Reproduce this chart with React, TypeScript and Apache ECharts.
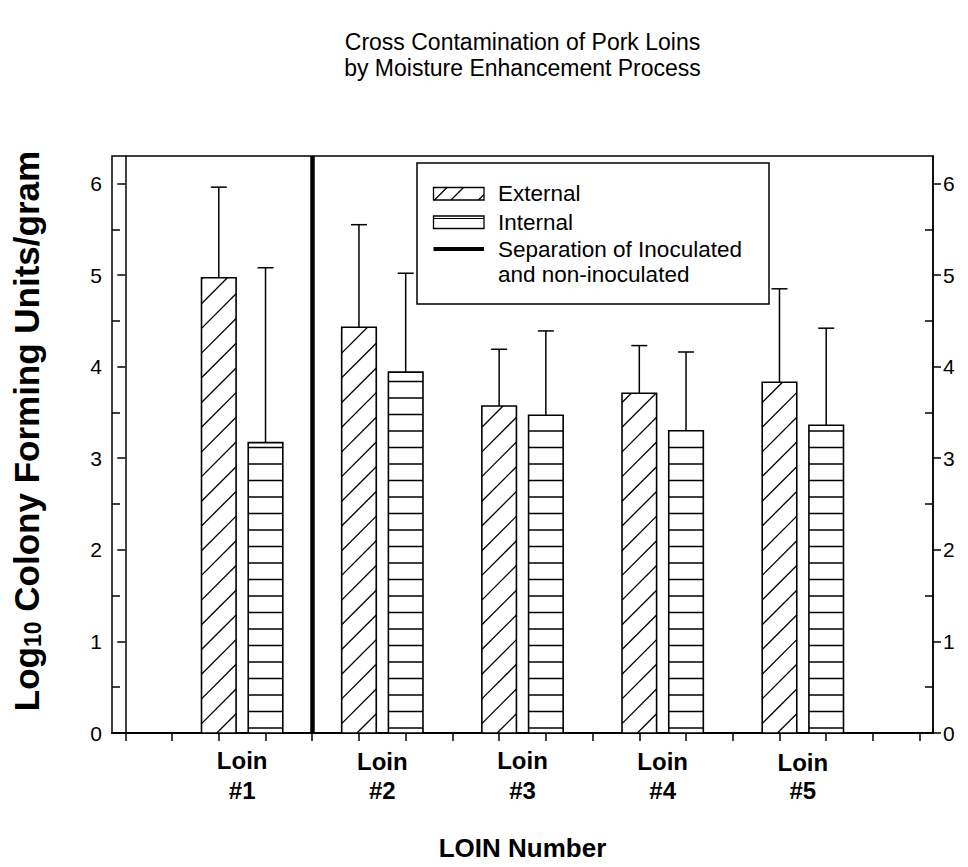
import React, { useEffect, useRef } from "react";
import * as echarts from "echarts";

// ---------- data ----------
const titleText = "Cross Contamination of Pork Loins\nby Moisture Enhancement Process";
const xTitle = "LOIN Number";
const loinNames = ["#1", "#2", "#3", "#4", "#5"];
const labelX = [2.5, 5.5, 8.5, 11.5, 14.5];
const labelDrop = [0, 2, 0, 2, 5];
const externalX = [2, 5, 8, 11, 14];
const internalX = [3, 6, 9, 12, 15];
const externalMeans = [4.97, 4.43, 3.57, 3.71, 3.83];
const externalSD = [0.99, 1.12, 0.62, 0.52, 1.02];
const internalMeans = [3.17, 3.94, 3.47, 3.3, 3.36];
const internalSD = [1.91, 1.08, 0.92, 0.86, 1.06];
const separatorX = 4;
const xTicks = [0, 1, 2, 3, 4, 5, 6, 7, 8, 9, 10, 11, 12, 13, 14, 15, 16, 17];
const yTicks = [0, 1, 2, 3, 4, 5, 6];
const yMinorTicks = [0.5, 1.5, 2.5, 3.5, 4.5, 5.5];
const legendLabels = ["External", "Internal", "Separation of Inoculated", "and non-inoculated"];

const FONT = "'Liberation Sans', Arial, Helvetica, sans-serif";
const BAR_W = 0.74;

function renderBar(params: any, api: any) {
  const x = api.value(0) as number;
  const mean = api.value(1) as number;
  const sd = api.value(2) as number;
  const kind = api.value(3) as number;
  const pTop = api.coord([x, mean]);
  const pBot = api.coord([x, 0]);
  const pErr = api.coord([x, mean + sd]);
  const w = api.size([BAR_W, 0])[0];
  const left = pTop[0] - w / 2;
  const top = pTop[1];
  const bottom = pBot[1];
  const h = bottom - top;
  const children: any[] = [];
  children.push({ type: "rect", shape: { x: left, y: top, width: w, height: h }, style: { fill: "#fff" } });
  const hatch = { stroke: "#000", lineWidth: 1.3 };
  if (kind === 0) {
    const s = 24.7;
    const c0 = 9.4;
    for (let c = c0 - s * Math.ceil((w + c0) / s); c < h; c += s) {
      const u1 = Math.max(0, -c);
      const u2 = Math.min(w, h - c);
      if (u2 - u1 < 0.5) continue;
      children.push({
        type: "line",
        shape: { x1: left + u1, y1: bottom - (u1 + c), x2: left + u2, y2: bottom - (u2 + c) },
        style: hatch,
      });
    }
  } else {
    for (let v = 5; v < h - 0.5; v += 16.5) {
      children.push({
        type: "line",
        shape: { x1: left, y1: bottom - v, x2: left + w, y2: bottom - v },
        style: hatch,
      });
    }
  }
  children.push({
    type: "rect",
    shape: { x: left, y: top, width: w, height: h },
    style: { fill: "none", stroke: "#000", lineWidth: 1.6 },
  });
  const cx = pTop[0];
  children.push({ type: "line", shape: { x1: cx, y1: top, x2: cx, y2: pErr[1] }, style: { stroke: "#000", lineWidth: 1.5 } });
  children.push({ type: "line", shape: { x1: cx - 8, y1: pErr[1], x2: cx + 8, y2: pErr[1] }, style: { stroke: "#000", lineWidth: 1.5 } });
  return { type: "group", children };
}

export default function App() {
  const ref = useRef<HTMLDivElement>(null);
  useEffect(() => {
    if (!ref.current) return;
    const chart = echarts.init(ref.current, undefined, { renderer: "svg" });

    const barData: any[] = [];
    externalMeans.forEach((m, i) => barData.push([externalX[i], m, externalSD[i], 0]));
    internalMeans.forEach((m, i) => barData.push([internalX[i], m, internalSD[i], 1]));

    const richX: any = { q: { fontSize: 24, fontWeight: "bold", fontFamily: FONT, color: "#000", lineHeight: 30 } };
    labelDrop.forEach((d, i) => {
      richX["p" + i] = { fontSize: 24, fontWeight: "bold", fontFamily: FONT, color: "#000", lineHeight: 30, padding: [d, 0, 0, 0] };
    });

    const yMajor = (pos: string) => ({
      type: "value",
      position: pos,
      min: 0,
      max: 6.3,
      axisLine: { show: true, lineStyle: { color: "#000", width: 1.5 } },
      axisTick: { show: true, inside: false, length: 8, customValues: yTicks, lineStyle: { color: "#000", width: 1.5 } },
      axisLabel: { show: true, customValues: yTicks, margin: 10, fontSize: 21, fontFamily: FONT, color: "#000" },
      splitLine: { show: false },
    });
    const yMinor = (pos: string) => ({
      type: "value",
      position: pos,
      min: 0,
      max: 6.3,
      axisLine: { show: false },
      axisTick: { show: true, inside: true, length: 8, customValues: yMinorTicks, lineStyle: { color: "#000", width: 1.5 } },
      axisLabel: { show: false },
      splitLine: { show: false },
    });

    const lx = 433.5;
    const option: any = {
      animation: false,
      backgroundColor: "#fff",
      grid: { left: 112, right: 35, top: 156, bottom: 134, show: true, borderColor: "#000", borderWidth: 1.5, containLabel: false },
      xAxis: {
        type: "value",
        min: -0.2857,
        max: 17.2857,
        axisLine: { show: true, onZero: false, lineStyle: { color: "#000", width: 2 } },
        axisTick: { show: true, inside: false, length: 8, customValues: xTicks, lineStyle: { color: "#000", width: 1.5 } },
        axisLabel: {
          show: true,
          customValues: labelX,
          margin: 12,
          formatter: (v: number) => {
            const i = labelX.indexOf(v);
            if (i < 0) return "";
            return `{p${i}|Loin}\n{q|${loinNames[i]}}`;
          },
          rich: richX,
        },
        splitLine: { show: false },
      },
      yAxis: [yMajor("left"), yMinor("left"), yMajor("right"), yMinor("right")],
      series: [
        {
          type: "custom",
          renderItem: renderBar,
          data: barData,
          encode: { x: 0, y: 1 },
          xAxisIndex: 0,
          yAxisIndex: 0,
          markLine: {
            silent: true,
            symbol: ["none", "none"],
            label: { show: false },
            lineStyle: { color: "#000", width: 4.5, type: "solid" },
            data: [{ xAxis: separatorX }],
          },
        },
      ],
      graphic: [
        {
          type: "text",
          x: 522.5,
          y: 29,
          style: { text: titleText, fontSize: 23, lineHeight: 26, fontFamily: FONT, fill: "#000", align: "center", verticalAlign: "top" },
        },
        {
          type: "text",
          x: 522.5,
          y: 848,
          style: { text: xTitle, fontSize: 26, fontWeight: "bold", fontFamily: FONT, fill: "#000", align: "center", verticalAlign: "middle" },
        },
        {
          type: "text",
          x: 26,
          y: 431,
          rotation: Math.PI / 2,
          style: {
            text: "{a|Log}{s|10}{a| Colony Forming Units/gram}",
            align: "center",
            verticalAlign: "middle",
            rich: {
              a: { fontSize: 35, fontWeight: "bold", fontFamily: FONT, fill: "#000", lineHeight: 37 },
              s: { fontSize: 23, fontWeight: "bold", fontFamily: FONT, fill: "#000", lineHeight: 12, verticalAlign: "bottom" },
            },
          },
        },
        // legend
        {
          type: "group",
          children: [
            { type: "rect", shape: { x: 417, y: 163, width: 352, height: 141 }, style: { fill: "#fff", stroke: "#000", lineWidth: 1.5 } },
            { type: "rect", shape: { x: lx, y: 187.5, width: 50.5, height: 12.5 }, style: { fill: "#fff", stroke: "#000", lineWidth: 1.3 } },
            { type: "line", shape: { x1: lx + 1, y1: 200, x2: lx + 13.5, y2: 187.5 }, style: { stroke: "#000", lineWidth: 1.2 } },
            { type: "line", shape: { x1: lx + 17.5, y1: 200, x2: lx + 30, y2: 187.5 }, style: { stroke: "#000", lineWidth: 1.2 } },
            { type: "line", shape: { x1: lx + 45, y1: 200, x2: lx + 50.5, y2: 194.5 }, style: { stroke: "#000", lineWidth: 1.2 } },
            { type: "rect", shape: { x: lx, y: 216, width: 50.5, height: 12.5 }, style: { fill: "#fff", stroke: "#000", lineWidth: 1.3 } },
            { type: "line", shape: { x1: lx, y1: 218.5, x2: lx + 50.5, y2: 218.5 }, style: { stroke: "#000", lineWidth: 1.2 } },
            { type: "line", shape: { x1: lx, y1: 249, x2: lx + 50.5, y2: 249 }, style: { stroke: "#000", lineWidth: 4 } },
            { type: "text", x: 498, y: 193.5, style: { text: legendLabels[0], fontSize: 22.5, fontFamily: FONT, fill: "#000", verticalAlign: "middle" } },
            { type: "text", x: 498, y: 222.5, style: { text: legendLabels[1], fontSize: 22.5, fontFamily: FONT, fill: "#000", verticalAlign: "middle" } },
            { type: "text", x: 498, y: 249, style: { text: legendLabels[2], fontSize: 22.5, fontFamily: FONT, fill: "#000", verticalAlign: "middle" } },
            { type: "text", x: 498, y: 274, style: { text: legendLabels[3], fontSize: 22.5, fontFamily: FONT, fill: "#000", verticalAlign: "middle" } },
          ],
        },
      ],
    };
    chart.setOption(option);
    return () => chart.dispose();
  }, []);
  return <div ref={ref} style={{ position: "absolute", left: 0, top: 0, width: 968, height: 867 }} />;
}
